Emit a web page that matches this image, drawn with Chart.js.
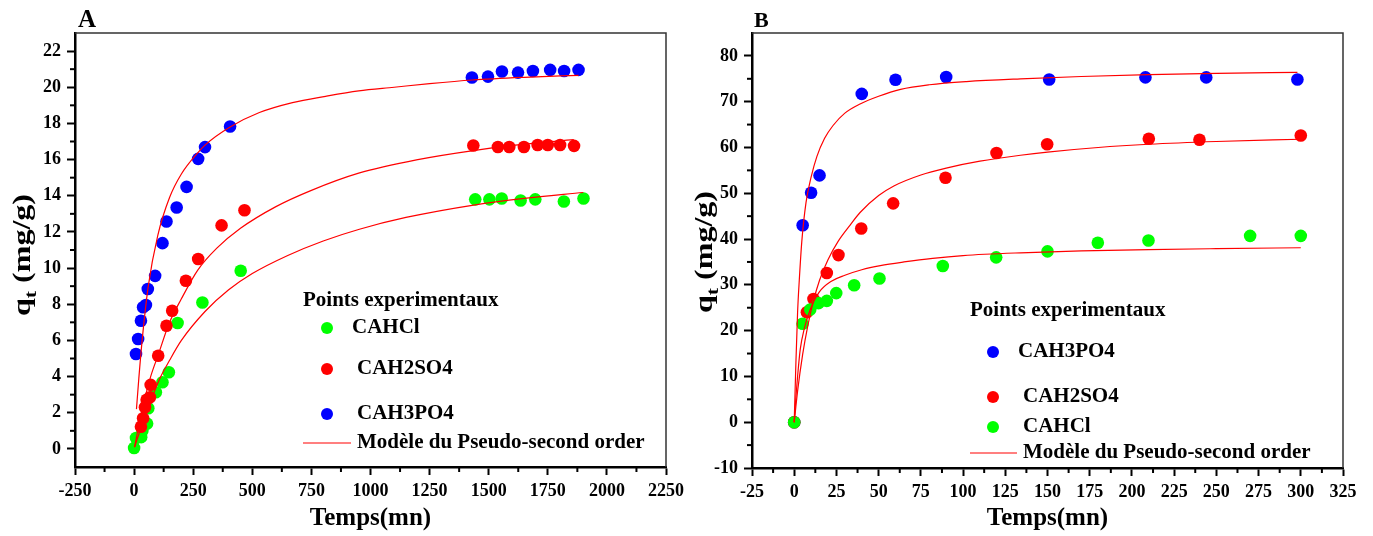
<!DOCTYPE html>
<html>
<head>
<meta charset="utf-8">
<script src="https://cdn.jsdelivr.net/npm/chart.js@4.4.0/dist/chart.umd.min.js"></script>
<style>
  body { margin: 0; background: #fff; }
  #wrap { position: relative; width: 1373px; height: 536px; }
  canvas { position: absolute; top: 0; }
  #chartA { left: 0; }
  #chartB { left: 690px; }
</style>
</head>
<body>
<div id="wrap">
  <canvas id="chartA" width="690" height="536"></canvas>
  <canvas id="chartB" width="683" height="536"></canvas>
</div>
<script>
// ---- Panel A : temps (mn) / qt (mg/g) ----
const tA_HCl   = [0, 8, 30, 35, 55, 60, 92, 120, 147, 184, 289, 451, 1443, 1503, 1555, 1635, 1697, 1818, 1901];
const qA_HCl   = [0.05, 0.6, 0.65, 1.0, 1.4, 2.25, 3.13, 3.69, 4.24, 6.96, 8.1, 9.85, 13.8, 13.8, 13.85, 13.74, 13.8, 13.68, 13.85];
const tA_H2SO4 = [29, 38, 46, 53, 67, 70, 102, 137, 161, 219, 271, 370, 467, 1435, 1539, 1587, 1649, 1707, 1750, 1802, 1861];
const qA_H2SO4 = [1.23, 1.7, 2.3, 2.72, 2.86, 3.54, 5.15, 6.81, 7.64, 9.3, 10.5, 12.36, 13.2, 16.78, 16.7, 16.7, 16.7, 16.81, 16.81, 16.81, 16.76];
const tA_H3PO4 = [8, 17, 29, 38, 50, 58, 89, 120, 137, 180, 222, 271, 300, 406, 1429, 1497, 1556, 1624, 1687, 1760, 1819, 1880];
const qA_H3PO4 = [5.25, 6.08, 7.09, 7.83, 7.96, 8.84, 9.57, 11.38, 12.58, 13.35, 14.49, 16.04, 16.69, 17.83, 20.54, 20.59, 20.87, 20.81, 20.9, 20.96, 20.9, 20.96];

// pseudo-second order curves
const tA_fitHCl   = [2, 30, 60, 109, 150, 200, 300, 400, 500, 650, 800, 953, 1150, 1443, 1650, 1900];
const qA_fitHCl   = [0.1, 1.2, 2.3, 3.9, 4.9, 6.0, 7.6, 8.8, 9.7, 10.7, 11.5, 12.15, 12.8, 13.5, 13.85, 14.18];
const tA_fitH2SO4 = [2, 20, 40, 70, 102, 150, 200, 270, 350, 450, 600, 750, 950, 1200, 1435, 1650, 1860];
const qA_fitH2SO4 = [0.1, 1.3, 2.5, 4.0, 5.2, 7.0, 8.3, 9.9, 11.1, 12.2, 13.4, 14.3, 15.25, 16.0, 16.5, 16.85, 17.1];
const tA_fitH3PO4 = [10, 20, 34, 60, 100, 150, 200, 271, 300, 406, 530, 670, 810, 950, 1100, 1250, 1430, 1650, 1880];
const qA_fitH3PO4 = [2.2, 3.9, 6.0, 9.0, 11.8, 13.9, 15.2, 16.4, 16.8, 17.8, 18.6, 19.15, 19.5, 19.8, 20.0, 20.2, 20.4, 20.55, 20.66];

const xTicksA = [-250, 0, 250, 500, 750, 1000, 1250, 1500, 1750, 2000, 2250];
const xMinorA = [-125, 125, 375, 625, 875, 1125, 1375, 1625, 1875, 2125];
const yTicksA = [0, 2, 4, 6, 8, 10, 12, 14, 16, 18, 20, 22];
const yMinorA = [1, 3, 5, 7, 9, 11, 13, 15, 17, 19, 21];

// ---- Panel B ----
const tB_H3PO4 = [0, 5, 10, 15, 40, 60, 90, 151, 208, 244, 298];
const qB_H3PO4 = [0, 43.0, 50.1, 53.9, 71.7, 74.8, 75.4, 74.85, 75.3, 75.3, 74.85];
const tB_H2SO4 = [0, 7.5, 11.4, 19.3, 26.2, 39.7, 58.6, 89.6, 119.8, 149.8, 210, 240, 300];
const qB_H2SO4 = [0, 24.0, 26.9, 32.6, 36.5, 42.3, 47.8, 53.4, 58.8, 60.7, 61.9, 61.7, 62.6];
const tB_HCl   = [0, 4.9, 9.5, 14.4, 19.3, 24.9, 35.5, 50.5, 88, 119.6, 150, 179.8, 209.8, 270, 300];
const qB_HCl   = [0, 21.5, 24.6, 26.0, 26.5, 28.2, 29.9, 31.4, 34.1, 36.0, 37.3, 39.2, 39.7, 40.7, 40.7];

const tB_fitH3PO4 = [0, 1, 2, 3, 4.5, 7, 10, 13.4, 18, 23, 30, 39, 50, 63, 80, 102, 134, 170, 210, 250, 298];
const qB_fitH3PO4 = [0, 13, 24, 31, 39.5, 48, 53.5, 58, 62, 64.8, 67.5, 69.5, 71.2, 72.7, 73.7, 74.4, 75.0, 75.5, 75.9, 76.2, 76.4];
const tB_fitH2SO4 = [0, 2, 5, 8, 11.4, 15, 20, 26, 33, 39, 50, 59, 75, 90, 110, 134, 150, 180, 210, 250, 300];
const qB_fitH2SO4 = [0, 6.8, 14.8, 21, 26.5, 31, 35.5, 39.5, 43, 45.8, 49.5, 51.6, 54, 55.5, 57, 58.3, 59, 60, 60.7, 61.3, 61.8];
const tB_fitHCl   = [0, 1, 2, 3.6, 6, 9.5, 15, 22, 30, 40, 51, 65, 82, 100, 134, 170, 210, 250, 300];
const qB_fitHCl   = [0, 5.5, 10, 16, 20.5, 24.6, 28.5, 30.8, 32.1, 33.3, 34.2, 35.0, 35.8, 36.4, 37.0, 37.4, 37.7, 37.9, 38.1];

const xTicksB = [-25, 0, 25, 50, 75, 100, 125, 150, 175, 200, 225, 250, 275, 300, 325];
const xMinorB = [-12.5, 12.5, 37.5, 62.5, 87.5, 112.5, 137.5, 162.5, 187.5, 212.5, 237.5, 262.5, 287.5, 312.5];
const yTicksB = [-10, 0, 10, 20, 30, 40, 50, 60, 70, 80];
const yMinorB = [-5, 5, 15, 25, 35, 45, 55, 65, 75];

const GREEN = '#00ff00', RED = '#ff0000', BLUE = '#0000ff';
const FONT = "'Liberation Serif', 'Times New Roman', serif";

function pts(t, q) { return t.map((v, i) => ({ x: v, y: q[i] })); }

function pointSet(label, t, q, color) {
    return { type: 'scatter', label, data: pts(t, q), backgroundColor: color, borderColor: color,
             pointRadius: 6.3, pointBorderWidth: 0, order: 1 };
}
function curveSet(t, q) {
    return { type: 'line', label: 'fit', data: pts(t, q), borderColor: RED, borderWidth: 1.2,
             pointRadius: 0, fill: false, cubicInterpolationMode: 'monotone', order: 0 };
}

// draws frame, minor ticks, panel letter, y title and the legend block
const decor = {
    id: 'decor',
    afterDraw(chart, args, o) {
        const ctx = chart.ctx, a = chart.chartArea;
        const xs = chart.scales.x, ys = chart.scales.y;
        ctx.save();
        ctx.strokeStyle = '#333';
        ctx.lineWidth = 1.5;
        ctx.beginPath();
        ctx.moveTo(a.left, a.top);
        ctx.lineTo(a.right, a.top);
        ctx.lineTo(a.right, a.bottom);
        ctx.stroke();

        ctx.strokeStyle = '#000';
        ctx.lineWidth = 2;
        o.xMinor.forEach(v => {
            const px = xs.getPixelForValue(v);
            ctx.beginPath(); ctx.moveTo(px, a.bottom); ctx.lineTo(px, a.bottom + 5); ctx.stroke();
        });
        o.yMinor.forEach(v => {
            const py = ys.getPixelForValue(v);
            ctx.beginPath(); ctx.moveTo(a.left, py); ctx.lineTo(a.left - 5, py); ctx.stroke();
        });

        ctx.fillStyle = '#000';
        ctx.textBaseline = 'alphabetic';
        ctx.textAlign = 'left';
        ctx.font = `bold ${o.letterSize}px ${FONT}`;
        ctx.fillText(o.letter, o.letterX, o.letterY);

        // y title: q with subscript t (stretched along its length like the original)
        ctx.save();
        ctx.translate(o.yTitleX, o.yTitleY);
        ctx.rotate(-Math.PI / 2);
        ctx.scale(1.28, 1);
        const big = `bold 25px ${FONT}`, small = `bold 17px ${FONT}`;
        ctx.font = big; const wq = ctx.measureText('q').width;
        ctx.font = small; const wt = ctx.measureText('t').width;
        ctx.font = big; const wr = ctx.measureText(' (mg/g)').width;
        let x0 = -(wq + wt + wr) / 2;
        ctx.fillText('q', x0, 0);
        ctx.font = small; ctx.fillText('t', x0 + wq, 6);
        ctx.font = big; ctx.fillText(' (mg/g)', x0 + wq + wt, 0);
        ctx.restore();

        // legend
        const lg = o.legend;
        ctx.font = `bold 21px ${FONT}`;
        ctx.textBaseline = 'middle';
        ctx.fillText('Points experimentaux', lg.titleX, lg.titleY);
        lg.items.forEach(it => {
            if (it.line) {
                ctx.strokeStyle = RED; ctx.lineWidth = 1.2;
                ctx.beginPath(); ctx.moveTo(it.x0, it.y); ctx.lineTo(it.x1, it.y); ctx.stroke();
            } else {
                ctx.fillStyle = it.color;
                ctx.beginPath(); ctx.arc(it.x0, it.y, 6, 0, Math.PI * 2); ctx.fill();
            }
            ctx.fillStyle = '#000';
            ctx.fillText(it.label, it.tx, it.y);
        });
        ctx.restore();
    }
};

function axis(min, max, ticks, extra) {
    return Object.assign({
        type: 'linear', min, max,
        afterBuildTicks: s => { s.ticks = ticks.map(v => ({ value: v })); },
        ticks: { font: { family: FONT, size: 18, weight: 'bold' }, color: '#000', autoSkip: false,
                 maxRotation: 0, callback: v => String(v) },
        grid: { display: true, drawOnChartArea: false, drawTicks: true, tickLength: 8, tickWidth: 2, tickColor: '#000' },
        border: { display: true, color: '#000', width: 2.5 }
    }, extra);
}

function makeChart(id, datasets, cfg) {
    return new Chart(document.getElementById(id), {
        data: { datasets },
        plugins: [decor],
        options: {
            responsive: false,
            animation: false,
            events: [],
            layout: { padding: cfg.padding },
            plugins: { legend: { display: false }, tooltip: { enabled: false }, decor: cfg.decor },
            scales: {
                x: axis(cfg.xMin, cfg.xMax, cfg.xTicks, {
                    title: { display: true, text: 'Temps(mn)', color: '#000',
                             font: { family: FONT, size: 25, weight: 'bold' }, padding: { top: 0, bottom: 2 } },
                    afterFit: s => { s.height = cfg.xHeight; }
                }),
                y: axis(cfg.yMin, cfg.yMax, cfg.yTicks, {
                    afterFit: s => { s.width = cfg.yWidth; }
                })
            }
        }
    });
}

Chart.defaults.scales.linear.ticks.padding = 6;

makeChart('chartA', [
    curveSet(tA_fitH3PO4, qA_fitH3PO4),
    curveSet(tA_fitH2SO4, qA_fitH2SO4),
    curveSet(tA_fitHCl, qA_fitHCl),
    pointSet('CAH2SO4', tA_H2SO4, qA_H2SO4, RED),
    pointSet('CAHCl', tA_HCl, qA_HCl, GREEN),
    pointSet('CAH3PO4', tA_H3PO4, qA_H3PO4, BLUE)
], {
    padding: { left: 0, top: 33, right: 23, bottom: 0 },
    xMin: -250, xMax: 2250, xTicks: xTicksA,
    yMin: -1, yMax: 23, yTicks: yTicksA,
    xHeight: 69, yWidth: 75,
    decor: {
        xMinor: xMinorA, yMinor: yMinorA,
        letter: 'A', letterSize: 25, letterX: 78, letterY: 27,
        yTitleX: 30, yTitleY: 255,
        legend: {
            titleX: 303, titleY: 301,
            items: [
                { color: GREEN, label: 'CAHCl', x0: 327, y: 328, tx: 352 },
                { color: RED, label: 'CAH2SO4', x0: 327, y: 369, tx: 357 },
                { color: BLUE, label: 'CAH3PO4', x0: 327, y: 414, tx: 357 },
                { line: true, label: 'Modèle du Pseudo-second order', x0: 303, x1: 351, y: 443, tx: 357 }
            ]
        }
    }
});

makeChart('chartB', [
    curveSet(tB_fitH3PO4, qB_fitH3PO4),
    curveSet(tB_fitH2SO4, qB_fitH2SO4),
    curveSet(tB_fitHCl, qB_fitHCl),
    pointSet('CAHCl', tB_HCl, qB_HCl, GREEN),
    pointSet('CAH2SO4', tB_H2SO4, qB_H2SO4, RED),
    pointSet('CAH3PO4', tB_H3PO4, qB_H3PO4, BLUE)
], {
    padding: { left: 0, top: 33, right: 30, bottom: 0 },
    xMin: -25, xMax: 325, xTicks: xTicksB,
    yMin: -10, yMax: 85, yTicks: yTicksB,
    xHeight: 68, yWidth: 62,
    decor: {
        xMinor: xMinorB, yMinor: yMinorB,
        letter: 'B', letterSize: 22, letterX: 64, letterY: 27,
        yTitleX: 22, yTitleY: 252,
        legend: {
            titleX: 280, titleY: 311,
            items: [
                { color: BLUE, label: 'CAH3PO4', x0: 303, y: 352, tx: 328 },
                { color: RED, label: 'CAH2SO4', x0: 303, y: 397, tx: 333 },
                { color: GREEN, label: 'CAHCl', x0: 303, y: 427, tx: 333 },
                { line: true, label: 'Modèle du Pseudo-second order', x0: 280, x1: 327, y: 453, tx: 333 }
            ]
        }
    }
});
</script>
</body>
</html>
